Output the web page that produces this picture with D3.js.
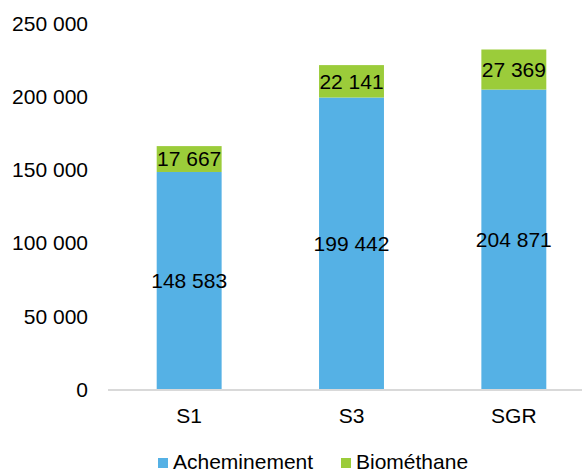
<!DOCTYPE html>
<html>
<head>
<meta charset="utf-8">
<script src="https://cdn.jsdelivr.net/npm/d3@7"></script>
<style>
	body { margin: 0; background: #fff; }
	svg text { font-family: "Liberation Sans", Arial, sans-serif; fill: #000; }
</style>
</head>
<body>
<svg id="chart" width="582" height="471"></svg>
<script>
// data
const categories = ["S1", "S3", "SGR"];
const acheminement = [148583, 199442, 204871];
const biomethane = [17667, 22141, 27369];
const yTicks = [0, 50000, 100000, 150000, 200000, 250000];
const seriesNames = ["Acheminement", "Biométhane"];
const colors = ["#55B1E5", "#9BCC3A"];

//////////////////////////////////////////////////////////////////////

const svg = d3.select("#chart");

const x = d3.scaleBand()
	.domain(categories)
	.range([108, 595])
	.paddingInner(0.6)
	.paddingOuter(0.3);

const y = d3.scaleLinear()
	.domain([0, 250000])
	.range([389.5, 23.5]);

const fmt = function(v) {
	return d3.format(",")(v).replace(/,/g, " ");
};

// y tick labels
svg.append("g")
	.selectAll("text")
	.data(yTicks)
	.join("text")
	.attr("x", 88)
	.attr("y", function(d) { return y(d); })
	.attr("dy", "0.35em")
	.attr("text-anchor", "end")
	.style("font-size", "21px")
	.text(fmt);

// stacked rows
const rows = categories.map(function(c, i) {
	return {cat: c, Acheminement: acheminement[i], "Biométhane": biomethane[i]};
});
const stack = d3.stack().keys(seriesNames)(rows);

const layers = svg.append("g")
	.selectAll("g")
	.data(stack)
	.join("g")
	.attr("fill", function(d, i) { return colors[i]; });

layers.selectAll("rect")
	.data(function(d) { return d; })
	.join("rect")
	.attr("x", function(d) { return x(d.data.cat); })
	.attr("width", x.bandwidth())
	.attr("y", function(d) { return y(d[1]); })
	.attr("height", function(d) { return y(d[0]) - y(d[1]); });

// value labels
layers.selectAll("text")
	.data(function(d) { return d; })
	.join("text")
	.attr("x", function(d) { return x(d.data.cat) + x.bandwidth() / 2; })
	.attr("y", function(d) { return (y(d[0]) + y(d[1])) / 2; })
	.attr("dy", "0.35em")
	.attr("text-anchor", "middle")
	.style("font-size", "21px")
	.text(function(d) { return fmt(d[1] - d[0]); });

// x axis line
svg.append("line")
	.attr("x1", x.range()[0])
	.attr("x2", x.range()[1])
	.attr("y1", y(0) + 0.5)
	.attr("y2", y(0) + 0.5)
	.attr("stroke", "#d9d9d9")
	.attr("stroke-width", 2);

// category labels
svg.append("g")
	.selectAll("text")
	.data(categories)
	.join("text")
	.attr("x", function(d) { return x(d) + x.bandwidth() / 2; })
	.attr("y", 423)
	.attr("text-anchor", "middle")
	.style("font-size", "21px")
	.text(function(d) { return d; });

// legend
const legendX = [158, 341];
const legend = svg.append("g")
	.selectAll("g")
	.data(seriesNames)
	.join("g")
	.attr("transform", function(d, i) { return "translate(" + legendX[i] + ",458)"; });

legend.append("rect")
	.attr("width", 10)
	.attr("height", 10)
	.attr("fill", function(d, i) { return colors[i]; });

legend.append("text")
	.attr("x", 15)
	.attr("y", 10.5)
	.style("font-size", "21px")
	.text(function(d) { return d; });
</script>
</body>
</html>
